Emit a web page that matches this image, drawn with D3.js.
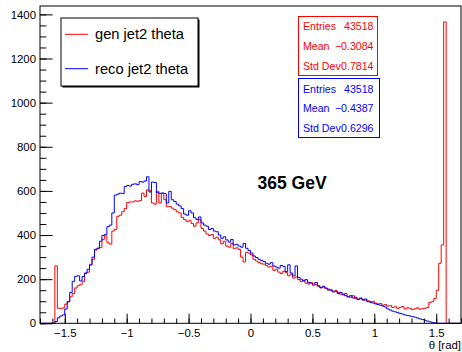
<!DOCTYPE html>
<html><head><meta charset="utf-8">
<script src="https://cdn.jsdelivr.net/npm/d3@7"></script>
<style>
html,body{margin:0;padding:0;background:#fff;}
svg{display:block;font-family:"Liberation Sans",Arial,Helvetica,sans-serif;}
</style></head><body>
<svg id="c" width="462" height="352"></svg>
<script>
// ---- data ----
const binLow = -1.7, binWidth = 0.02;
const genTheta = [
0,0,0,0,0,0,260,68,66,70,
87,98,120,135,160,170,175,189,226,232,
265,290,332,340,343,380,396,365,359,418,
425,485,490,506,520,547,550,550,555,553,
556,590,575,605,600,545,540,598,545,590,
560,528,530,522,515,505,500,480,470,462,
465,452,440,455,470,430,418,405,398,402,
385,390,378,360,372,350,345,362,338,342,
335,300,278,322,318,310,290,282,275,270,
268,262,255,258,240,245,232,225,236,230,
215,222,205,210,198,190,195,182,178,185,
172,175,168,160,165,158,150,152,145,148,
140,132,128,135,120,118,125,112,110,115,
108,105,102,98,100,92,88,90,82,85,
78,80,72,75,68,72,76,65,70,68,
62,66,70,64,66,68,72,95,98,112,
150,272,355,1366,0,0,0,0,0,0];
const recoTheta = [
0,0,0,0,0,0,8,25,33,38,
65,98,140,190,213,215,192,212,228,245,
265,300,335,340,372,398,402,438,445,500,
581,585,590,588,620,625,622,630,632,628,
642,640,645,664,595,640,638,592,589,590,
588,545,598,560,552,540,532,520,495,490,
510,500,478,470,482,455,445,440,425,430,
418,415,400,385,392,378,368,380,355,358,
350,345,362,340,330,318,305,298,290,285,
280,272,268,275,260,255,250,262,258,235,
265,228,215,260,208,200,192,198,185,182,
178,185,170,162,168,160,155,150,142,145,
135,140,132,125,120,125,115,118,108,112,
105,110,98,95,92,88,85,82,78,74,
65,60,55,52,48,45,42,38,35,33,
30,28,24,20,17,14,10,7,4,2,
0,0,0,0,0,0,0,0,0,0];
const xTicks = [-1.5,-1,-0.5,0,0.5,1,1.5];
const xTickLabels = ["\u22121.5","\u22121","\u22120.5","0","0.5","1","1.5"];
const yTicks = [0,200,400,600,800,1000,1200,1400];
const yTickLabels = ["0","200","400","600","800","1000","1200","1400"];
const seriesNames = ["gen jet2 theta","reco jet2 theta"];
const seriesColors = ["#ff0000","#0000ff"];
const statLabels = ["Entries","Mean","Std Dev"];
const statsGen = ["43518","\u22120.3084","0.7814"];
const statsReco = ["43518","\u22120.4387","0.6296"];
const annotation = "365 GeV";
const xTitle = "\u03b8 [rad]";

// ---- layout ----
const svg = d3.select("#c");
const fx0 = 40, fx1 = 461, fy0 = 6, fy1 = 323.3;
const x = d3.scaleLinear().domain([-1.7, 1.7]).range([fx0, fx1]);
const y = d3.scaleLinear().domain([0, 1438]).range([fy1, fy0]);

svg.append("rect").attr("width",462).attr("height",352).attr("fill","#fff");

// histograms
function stepPts(vals){
  const pts = [];
  vals.forEach((v,i)=>{
    pts.push([binLow + i*binWidth, v]);
    pts.push([binLow + (i+1)*binWidth, v]);
  });
  return pts;
}
const line = d3.line().x(d=>x(d[0])).y(d=>y(d[1]));
[genTheta, recoTheta].forEach((vals,k)=>{
  svg.append("path").attr("d", line(stepPts(vals)))
    .attr("fill","none").attr("stroke",seriesColors[k]).attr("stroke-width",1);
});

// axes (ticks inward)
const axCol = "#000";
const gx = svg.append("g").attr("transform",`translate(0,${fy1})`);
gx.call(d3.axisBottom(x).tickValues(d3.range(-17,18).map(k=>k/10)).tickSizeInner(-4.75).tickSizeOuter(0).tickFormat(""));
const gx2 = svg.append("g").attr("transform",`translate(0,${fy1})`);
gx2.call(d3.axisBottom(x).tickValues(xTicks).tickSizeInner(-9.5).tickSizeOuter(0).tickPadding(5.6)
  .tickFormat((d,i)=>xTickLabels[i]));
const gy = svg.append("g").attr("transform",`translate(${fx0},0)`);
gy.call(d3.axisLeft(y).tickValues(d3.range(0,1438,50)).tickSizeInner(-6.3).tickSizeOuter(0).tickFormat(""));
const gy2 = svg.append("g").attr("transform",`translate(${fx0},0)`);
gy2.call(d3.axisLeft(y).tickValues(yTicks).tickSizeInner(-12.6).tickSizeOuter(0).tickPadding(4)
  .tickFormat((d,i)=>yTickLabels[i]));
svg.selectAll(".domain").remove();
svg.selectAll(".tick line").attr("stroke",axCol);
svg.selectAll(".tick text").attr("font-size","11.4px").attr("fill","#000")
  .attr("font-family",'"Liberation Sans",Arial,sans-serif');

// frame
svg.append("rect").attr("x",fx0).attr("y",fy0).attr("width",fx1-fx0).attr("height",fy1-fy0)
  .attr("fill","none").attr("stroke",axCol).attr("stroke-width",1);

// axis title
svg.append("text").attr("x",461).attr("y",348.5).attr("text-anchor","end")
  .attr("font-size","11.4px").text(xTitle);

// legend
const lg = svg.append("g");
lg.append("rect").attr("x",62.5).attr("y",19.5).attr("width",137).attr("height",68).attr("fill","#000");
lg.append("rect").attr("x",61).attr("y",18).attr("width",137).attr("height",68)
  .attr("fill","#fff").attr("stroke","#000").attr("stroke-width",1);
const legY = [34.3, 68.7];
seriesNames.forEach((n,k)=>{
  lg.append("line").attr("x1",65).attr("x2",88).attr("y1",legY[k]).attr("y2",legY[k])
    .attr("stroke",seriesColors[k]).attr("stroke-width",1);
  lg.append("text").attr("x",95).attr("y",legY[k]+5).attr("font-size","14.7px").attr("fill","#000").text(n);
});

// stats boxes
function statBox(x0,y0,w,h,vals,col,rowY){
  const g = svg.append("g");
  g.append("rect").attr("x",x0).attr("y",y0).attr("width",w).attr("height",h)
    .attr("fill","#fff").attr("stroke",col).attr("stroke-width",1);
  statLabels.forEach((lab,i)=>{
    g.append("text").attr("x",x0+4.5).attr("y",rowY[i]).attr("font-size","10.6px").attr("fill",col).text(lab);
    g.append("text").attr("x",x0+75).attr("y",rowY[i]).attr("text-anchor","end")
      .attr("font-size","10.6px").attr("fill",col).text(vals[i]);
  });
}
statBox(298.5,16.5,79,59,statsGen,seriesColors[0],[29.5,49.8,69.5]);
statBox(298.5,78.5,81,59,statsReco,seriesColors[1],[92.8,112.2,132.2]);

// annotation
svg.append("text").attr("x",257.5).attr("y",189).attr("font-size","17.5px").attr("font-weight","bold")
  .attr("fill","#000").text(annotation);
</script>
</body></html>
